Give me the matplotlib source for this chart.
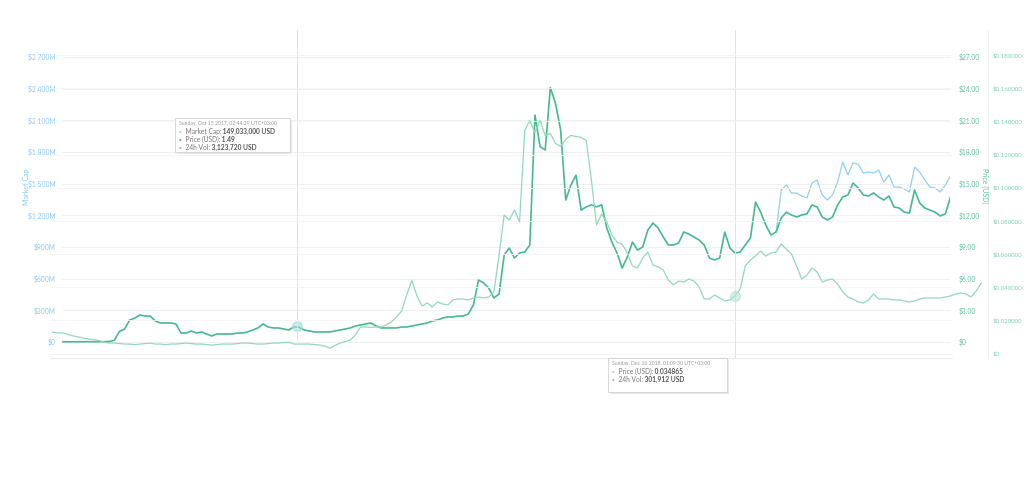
import numpy as np
import pandas as pd
import matplotlib
matplotlib.use("Agg")
import matplotlib.pyplot as plt
from matplotlib.patches import Rectangle

# coin price (USD), one value every 5 days from 2017-03-01
price_start = "2017-03-01"
price_usd = [0.02, 0.02, 0.02, 0.02, 0.02, 0.02, 0.02, 0.02, 0.03, 0.05,
             0.15, 1.0, 1.23, 2.08, 2.27, 2.56, 2.46, 2.46, 1.99, 1.80,
             1.80, 1.80, 1.71, 0.85, 0.85, 1.04, 0.85, 0.95, 0.76, 0.57,
             0.76, 0.76, 0.76, 0.76, 0.85, 0.85, 0.95, 1.14, 1.33, 1.71,
             1.42, 1.33, 1.33, 1.23, 1.14, 1.42, 1.40, 1.14, 1.04, 0.95,
             0.95, 0.95, 0.95, 1.04, 1.14, 1.23, 1.33, 1.52, 1.61, 1.71,
             1.80, 1.52, 1.33, 1.33, 1.33, 1.33, 1.42, 1.42, 1.52, 1.61,
             1.71, 1.80, 1.99, 2.08, 2.27, 2.37, 2.37, 2.46, 2.46, 2.65,
             3.51, 5.87, 5.59, 5.12, 4.17, 4.55, 8.24, 8.9, 7.96, 8.43,
             8.53, 9.19, 21.5, 18.5, 18.2, 24.1, 22.6, 20.1, 13.45, 14.87,
             15.8, 12.5, 12.8, 13.0, 12.8, 13.0, 10.8, 9.47, 8.43, 7.0,
             8.05, 9.47, 8.7, 9.0, 10.6, 11.27, 10.8, 9.95, 9.19, 9.19,
             9.38, 10.42, 10.23, 9.95, 9.66, 9.19, 7.96, 7.77, 7.96, 10.42,
             8.9, 8.43, 8.53, 9.19, 9.85, 13.26, 12.3, 11.08, 10.14, 10.42,
             11.75, 12.3, 12.03, 11.84, 12.03, 12.13, 12.98, 12.79, 11.84, 11.56,
             11.84, 12.98, 13.74, 13.93, 15.06, 14.59, 13.93, 13.83, 14.12, 13.74,
             13.45, 13.83, 12.79, 12.69, 12.3, 12.22, 14.4, 13.17, 12.69, 12.5,
             12.3, 11.94, 12.13, 13.74]

# market cap (millions USD) from where it leaves the price line
mcap_start = "2019-01-25"
market_cap_m = [1042, 1440, 1487, 1411, 1411, 1383, 1364, 1506, 1535, 1393,
                1345, 1393, 1516, 1705, 1582, 1696, 1686, 1601, 1610, 1601,
                1629, 1516, 1582, 1468, 1468, 1449, 1421, 1658, 1610, 1535,
                1468, 1459, 1421, 1487, 1573]

# second price series (USD), every 5 days from 2017-02-19
other_start = "2017-02-19"
other_price = [0.0130, 0.0124, 0.0124, 0.0115, 0.0106, 0.0100, 0.0093, 0.0087, 0.0084, 0.0078,
               0.0069, 0.0063, 0.0063, 0.0060, 0.0057, 0.0057, 0.0054, 0.0057, 0.0060, 0.0063,
               0.0057, 0.0057, 0.0054, 0.0057, 0.0057, 0.0060, 0.0063, 0.0060, 0.0057, 0.0057,
               0.0054, 0.0051, 0.0054, 0.0057, 0.0057, 0.0057, 0.0060, 0.0063, 0.0063, 0.0060,
               0.0057, 0.0057, 0.0060, 0.0063, 0.0063, 0.0066, 0.0069, 0.0057, 0.0057, 0.0057,
               0.0057, 0.0054, 0.0051, 0.0045, 0.0033, 0.0048, 0.0063, 0.0072, 0.0081, 0.0112,
               0.0160, 0.0160, 0.0157, 0.0160, 0.0160, 0.0172, 0.0190, 0.0220, 0.0256, 0.0353,
               0.0440, 0.0347, 0.0286, 0.0305, 0.0280, 0.0311, 0.0299, 0.0293, 0.0323, 0.0329,
               0.0329, 0.0323, 0.0335, 0.0341, 0.0335, 0.0341, 0.0371, 0.0594, 0.0835, 0.0805,
               0.0866, 0.0793, 0.1345, 0.1405, 0.1333, 0.1405, 0.1315, 0.1327, 0.1267, 0.1249,
               0.1291, 0.1315, 0.1309, 0.1303, 0.1285, 0.1046, 0.0775, 0.0841, 0.0793, 0.0715,
               0.0672, 0.0660, 0.0606, 0.0528, 0.0516, 0.0576, 0.0612, 0.0534, 0.0522, 0.0504,
               0.0443, 0.0413, 0.0437, 0.0431, 0.0449, 0.0437, 0.0401, 0.0329, 0.0329, 0.0353,
               0.0335, 0.0317, 0.0323, 0.0349, 0.0389, 0.0528, 0.0564, 0.0588, 0.0618, 0.0588,
               0.0606, 0.0612, 0.0660, 0.0630, 0.0600, 0.0528, 0.0449, 0.0473, 0.0516, 0.0492,
               0.0431, 0.0443, 0.0449, 0.0419, 0.0371, 0.0341, 0.0329, 0.0311, 0.0305, 0.0323,
               0.0359, 0.0329, 0.0329, 0.0329, 0.0323, 0.0323, 0.0317, 0.0311, 0.0317, 0.0329,
               0.0335, 0.0335, 0.0335, 0.0335, 0.0341, 0.0347, 0.0359, 0.0365, 0.0359, 0.0341,
               0.0377, 0.0425]

mcap_ticks = [0, 300, 600, 900, 1200, 1500, 1800, 2100, 2400, 2700]
mcap_labels = ["$0", "$300M", "$600M", "$900M", "$1 200M", "$1 500M",
               "$1 800M", "$2 100M", "$2 400M", "$2 700M"]
price_ticks = [0, 3, 6, 9, 12, 15, 18, 21, 24, 27]
price_labels = ["$0"] + ["$%.2f" % v for v in price_ticks[1:]]
other_ticks = [0, 0.02, 0.04, 0.06, 0.08, 0.10, 0.12, 0.14, 0.16, 0.18]
other_labels = ["$0"] + ["$%.6f" % v for v in other_ticks[1:]]

# hover points
tip1_date, tip1_price = "2017-10-15", 1.49
tip2_date, tip2_price = "2018-12-16", 0.034865

plt.rcParams['font.family'] = ['Lato', 'DejaVu Sans']

W, H = 1024, 493
fig = plt.figure(figsize=(W / 100, H / 100), dpi=100)


def box(l, t, r, b):
    return [l / W, 1 - b / H, (r - l) / W, (b - t) / H]


day0 = pd.Timestamp(price_start)
px_day = 1.026


def px2date(px):
    return day0 + pd.Timedelta(days=(px - 63) / px_day)


blue = '#8fd0f4'
dark = '#45bb8d'
light = '#91d9bb'

price_dates = pd.date_range(price_start, periods=len(price_usd), freq="5D")
mcap_dates = pd.date_range(mcap_start, periods=len(market_cap_m), freq="5D")
other_dates = pd.date_range(other_start, periods=len(other_price), freq="5D")

ax = fig.add_axes(box(62, 30, 950, 358))
ax.plot(mcap_dates, market_cap_m, color=blue, lw=0.9)
ax.set_xlim(px2date(62), px2date(950))
ax.set_ylim(-151.6, 2955.6)
ax.set_yticks(mcap_ticks, mcap_labels)
ax.tick_params(axis='y', length=0, pad=4.5, labelsize=4.9, labelcolor='#86c9ef')
ax.set_xticks([])
ax.grid(axis='y', color='#eeeeee', lw=0.6)
for s in ax.spines.values():
    s.set_visible(False)

ax2 = ax.twinx()
ax2.plot(price_dates, price_usd, color=dark, lw=1.2)
ax2.plot(pd.Timestamp(tip1_date), tip1_price, 'o', ms=7, color='#a8dcd6', alpha=0.6)
ax2.set_ylim(-1.516, 29.556)
ax2.set_yticks(price_ticks, price_labels)
ax2.tick_params(axis='y', length=0, pad=6, labelsize=4.9, labelcolor='#5ec39c')
for s in ax2.spines.values():
    s.set_visible(False)

ax3 = fig.add_axes(box(50, 30, 952, 358))
ax3.patch.set_visible(False)
ax3.plot(other_dates, other_price, color=light, lw=0.9, clip_on=False)
ax3.plot(pd.Timestamp(tip2_date), tip2_price, 'o', ms=7, color='#b5e4d4', alpha=0.6)
ax3.axvline(pd.Timestamp(tip1_date), ymin=0.055, color='#e3e3e3', lw=0.7, zorder=0)
ax3.axvline(pd.Timestamp(tip2_date), color='#e3e3e3', lw=0.7, zorder=0)
ax3.set_xlim(px2date(50), px2date(952))
ax3.set_ylim(-0.0027, 0.1951)
ax3.yaxis.tick_right()
ax3.spines['right'].set_position(('axes', (988 - 50) / (952 - 50)))
ax3.set_yticks(other_ticks, other_labels)
ax3.tick_params(axis='y', length=0, pad=3, labelsize=4.4, labelcolor='#7dd3b3')
ax3.set_xticks([])
ax3.grid(axis='y', color='#f4f4f4', lw=0.6)
ax3.spines['top'].set_visible(False)
ax3.spines['left'].set_visible(False)
ax3.spines['right'].set_color('#eeeeee')
ax3.spines['right'].set_linewidth(0.6)
ax3.spines['bottom'].set_color('#eaeaea')
ax3.spines['bottom'].set_linewidth(0.6)

# overlay in pixel coordinates for titles and tooltips
ov = fig.add_axes([0, 0, 1, 1])
ov.set_xlim(0, W)
ov.set_ylim(H, 0)
ov.axis('off')

ov.text(26, 187, "Market Cap", rotation=90, fontsize=5, color='#86c9ef',
        ha='center', va='center')
ov.text(985, 186, "Price (USD)", rotation=270, fontsize=5, color='#5ec39c',
        ha='center', va='center')


def tooltip(x, y, w, h, header, rows):
    ov.add_patch(Rectangle((x + 1.5, y + 1.5), w, h, fc='#e9e9e9', ec='none'))
    ov.add_patch(Rectangle((x, y), w, h, fc='white', ec='#d2d2d2', lw=0.6))
    ov.text(x + 4, y + 5.5, header, fontsize=3.7, color='#9a9a9a', va='center')
    yy = y + 13.5
    for dot, label, value in rows:
        t = ov.text(x + 4, yy, "\u25cf", fontsize=3.2, color=dot, va='center')
        t = ov.annotate("  " + label, xy=(1, 0.5), xycoords=t, fontsize=4.8,
                        color='#777777', va='center')
        ov.annotate(" " + value, xy=(1, 0.5), xycoords=t, fontsize=4.8,
                    color='#555555', va='center', fontweight='bold')
        yy += 8


tooltip(175, 118, 115, 34, "Sunday, Oct 15 2017, 02:44:29 UTC+03:00",
        [(blue, "Market Cap:", "149,033,000 USD"),
         (dark, "Price (USD):", "1.49"),
         ('#aaaaaa', "24h Vol:", "3,123,720 USD")])
tooltip(608, 358, 119, 34, "Sunday, Dec 16 2018, 01:09:30 UTC+03:00",
        [(light, "Price (USD):", "0.034865"),
         ('#aaaaaa', "24h Vol:", "301,912 USD")])

fig.savefig("out.png", dpi=100, facecolor='white')
